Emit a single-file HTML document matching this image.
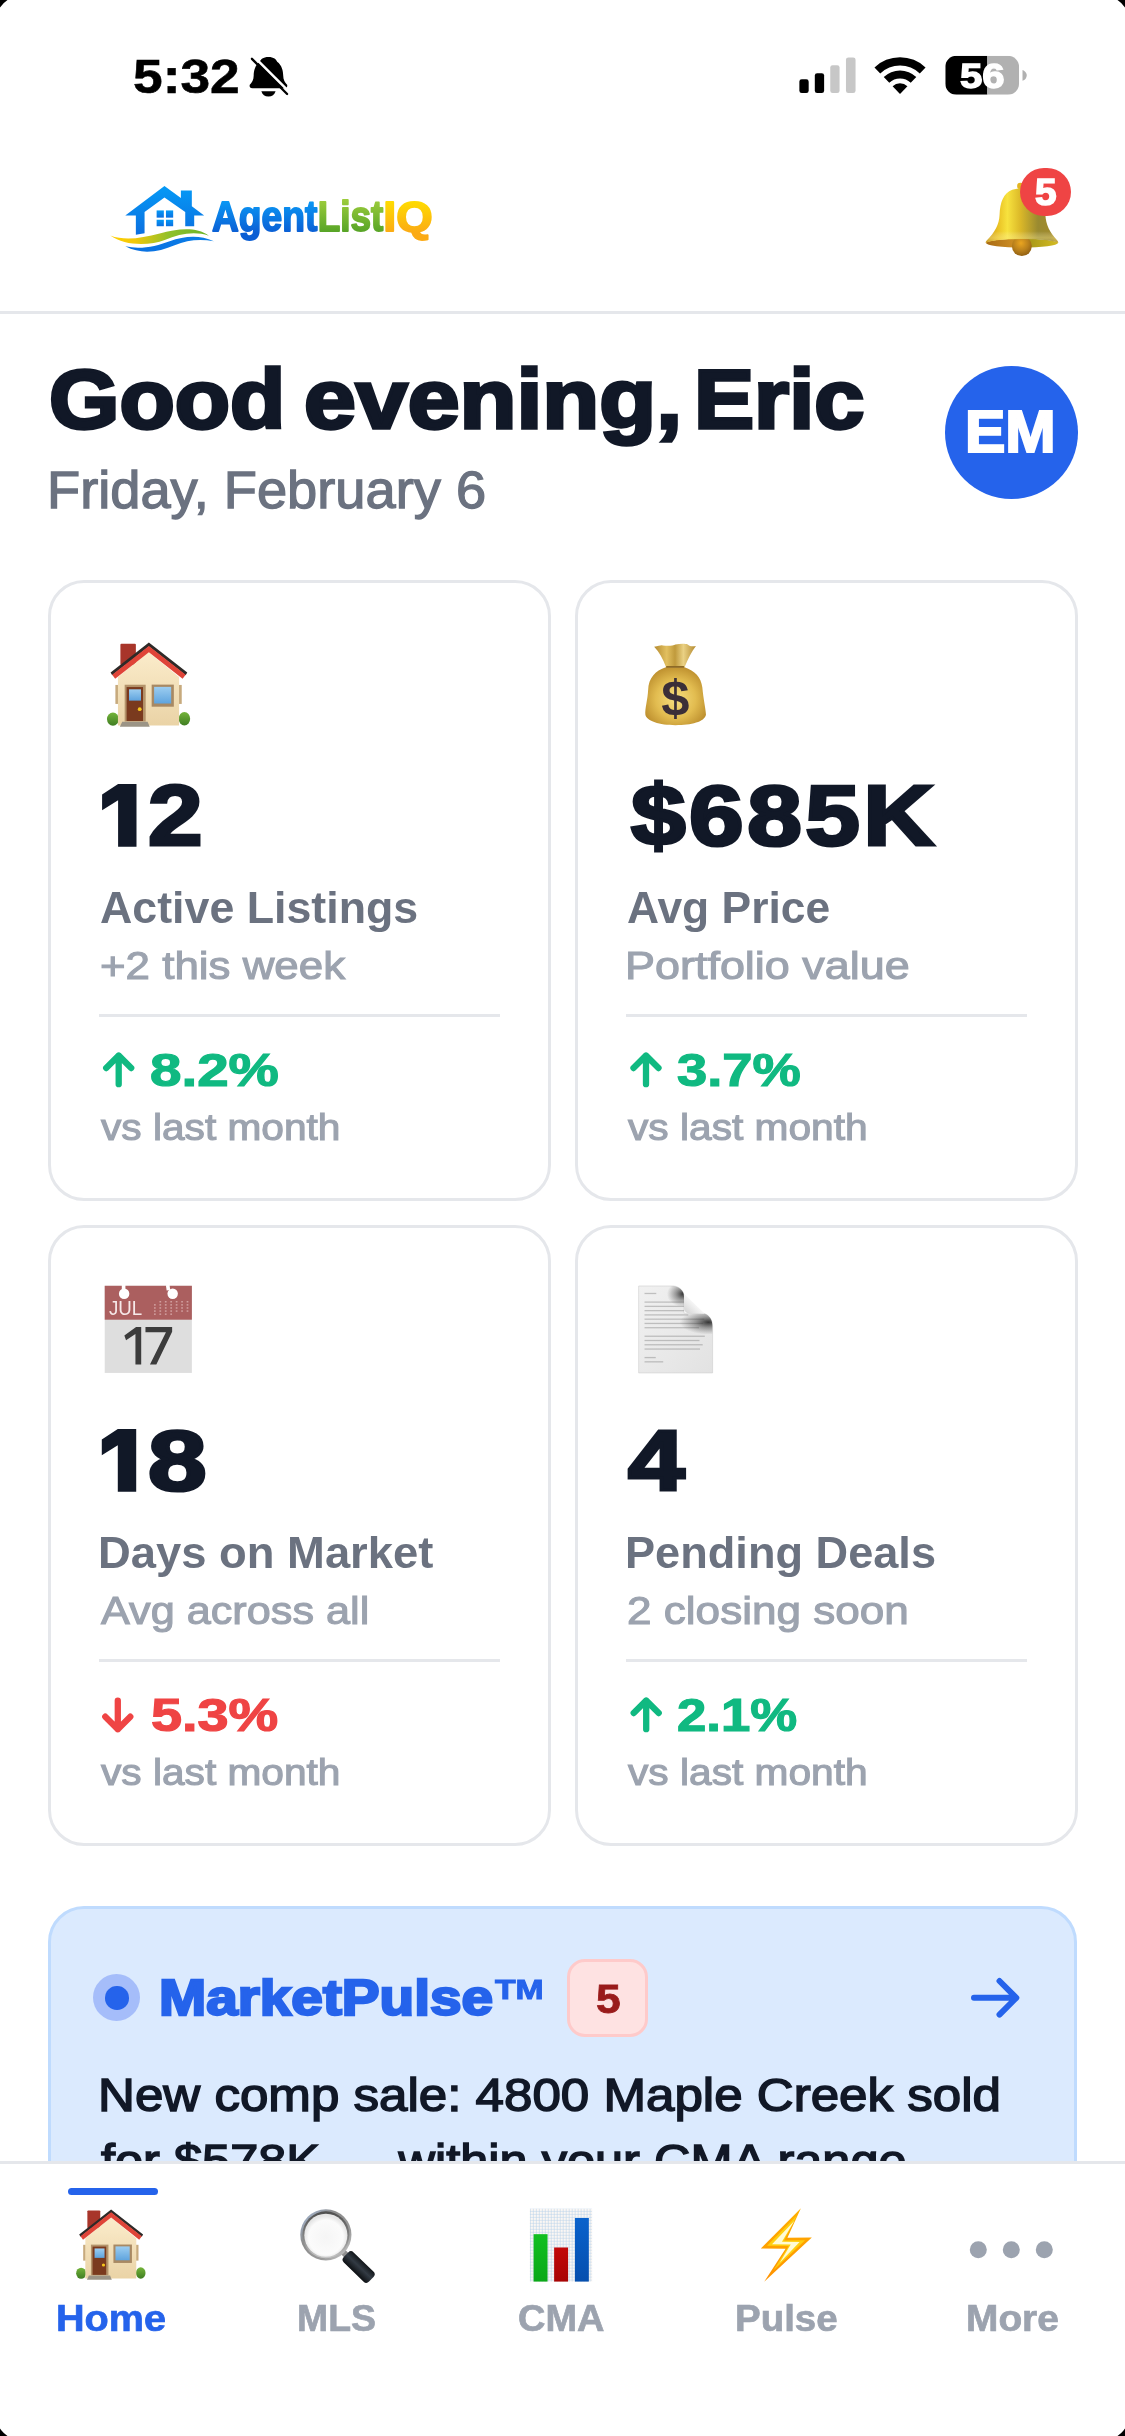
<!DOCTYPE html>
<html><head><meta charset="utf-8"><title>AgentListIQ</title>
<style>
html,body{margin:0;padding:0;}
body{width:1125px;height:2436px;position:relative;overflow:hidden;background:#fff;font-family:'Liberation Sans',sans-serif;}
.t{will-change:transform;position:absolute;white-space:nowrap;line-height:1;transform-origin:0 0;font-family:'Liberation Sans',sans-serif;}
.a{position:absolute;will-change:transform;}
.card{position:absolute;box-sizing:border-box;border:3px solid #e5e7eb;border-radius:36px;background:#fff;}
.sep{position:absolute;height:3px;background:#e5e7eb;}
svg{display:block;width:100%;height:100%;overflow:visible;}
.g1{background:linear-gradient(#0a96f4,#0b62d8);-webkit-background-clip:text;background-clip:text;color:transparent;-webkit-text-fill-color:transparent;}
</style></head><body>

<svg class="a" style="left:0;top:0;width:1125px;height:2436px" viewBox="0 0 1125 2436"><path d="M0,0H7.5Q3,3 0,7.5Z M1125,0V7.5Q1122,3 1117.5,0Z M0,2436V2428.5Q3,2433 7.5,2436Z M1125,2436H1117.5Q1122,2433 1125,2428.5Z" fill="#000"/></svg>
<div class="a" style="left:249.8px;top:40px;width:200px;height:80px;margin-left:-129.8px"><svg viewBox="0 0 1125 450">
<path d="M835,95 C865,95 880,110 884,122 C910,140 918,175 918,200 C918,225 928,240 940,252 C944,262 938,272 925,272 L745,272 C732,272 726,262 730,252 C742,240 752,225 752,200 C752,175 760,140 786,122 C790,110 805,95 835,95 Z" fill="#000"/>
<path d="M795,288 L875,288 C870,308 855,318 835,318 C815,318 800,308 795,288 Z" fill="#000"/>
<line x1="752" y1="92" x2="952" y2="292" stroke="#fff" stroke-width="14"/>
<line x1="742" y1="106" x2="940" y2="304" stroke="#000" stroke-width="13" stroke-linecap="round"/>
</svg></div>
<div class="a" style="left:760px;top:30px;width:300px;height:90px"><svg viewBox="0 0 1125 338">
<defs><clipPath id="bt"><rect x="695" y="97" width="277" height="146" rx="42"/></clipPath></defs>
<rect x="147" y="185" width="35" height="52" rx="9" fill="#000"/>
<rect x="205" y="162" width="35" height="75" rx="9" fill="#000"/>
<rect x="263" y="132" width="35" height="105" rx="9" fill="#c7c7c7"/>
<rect x="322" y="103" width="36" height="134" rx="9" fill="#c7c7c7"/>
<path d="M429.1,140.7 A138,138 0 0 1 620.9,140.7 L599.3,163.0 A107,107 0 0 0 450.7,163.0 Z" fill="#000"/><path d="M463.9,176.7 A88,88 0 0 1 586.1,176.7 L565.3,198.3 A58,58 0 0 0 484.7,198.3 Z" fill="#000"/><path d="M497.2,211.2 A40,40 0 0 1 552.8,211.2 L525,240 Z" fill="#000"/>
<g clip-path="url(#bt)"><rect x="695" y="97" width="158" height="146" fill="#000"/><rect x="853" y="97" width="120" height="146" fill="#b1b1b1"/></g>
<path d="M985,150 C998,155 1001,165 1001,170 C1001,176 998,186 985,191 Z" fill="#b1b1b1"/>
<text x="834" y="218" font-family="'Liberation Sans', sans-serif" font-weight="700" font-size="132" text-anchor="middle" fill="#fff" stroke="#fff" stroke-width="5" textLength="168" lengthAdjust="spacingAndGlyphs">56</text>
</svg></div>
<div class="a" style="left:100px;top:170px;width:140px;height:100px"><svg viewBox="0 0 1125 804">
<defs>
<linearGradient id="lg1" x1="0" y1="0" x2="0" y2="1"><stop offset="0" stop-color="#059af6"/><stop offset="1" stop-color="#0b6fe0"/></linearGradient>
<linearGradient id="lg2" x1="0" y1="0" x2="1" y2="0"><stop offset="0" stop-color="#ffd000"/><stop offset="0.25" stop-color="#f2c80a"/><stop offset="0.6" stop-color="#8fc02a"/><stop offset="1" stop-color="#6ab42a"/></linearGradient>
<linearGradient id="lg3" x1="0" y1="0" x2="1" y2="0"><stop offset="0" stop-color="#0a6fe0"/><stop offset="1" stop-color="#0a7fe8"/></linearGradient>
</defs>
<polygon points="518,128 650,226 650,165 738,165 738,292 837,366 757,366 757,452 685,452 685,337 518,222 358,337 358,508 288,520 288,366 203,366" fill="url(#lg1)"/>
<rect x="455" y="325" width="58" height="58" fill="url(#lg1)"/><rect x="530" y="325" width="58" height="58" fill="url(#lg1)"/>
<rect x="455" y="400" width="58" height="52" fill="url(#lg1)"/><rect x="530" y="400" width="58" height="52" fill="url(#lg1)"/>
<path d="M82,526 C200,570 330,548 480,510 C620,474 770,452 875,528 C760,490 640,512 520,562 C400,608 200,612 82,526 Z" fill="url(#lg2)"/>
<path d="M203,614 C330,642 450,612 560,572 C680,530 800,520 915,572 C800,552 700,562 600,606 C470,662 330,682 203,614 Z" fill="url(#lg3)"/>
</svg></div>
<div class="a" style="left:960px;top:150px;width:140px;height:120px"><svg viewBox="0 0 1125 964">
<defs>
<linearGradient id="bg1" x1="0" y1="0" x2="1" y2="0"><stop offset="0" stop-color="#c2900f"/><stop offset="0.16" stop-color="#e9bf22"/><stop offset="0.3" stop-color="#f7e23e"/><stop offset="0.48" stop-color="#dbb828"/><stop offset="0.72" stop-color="#9a8a30"/><stop offset="0.9" stop-color="#a08a2c"/><stop offset="1" stop-color="#c6a228"/></linearGradient>
<radialGradient id="bg2" cx="0.45" cy="0.35" r="0.7"><stop offset="0" stop-color="#eaa520"/><stop offset="0.55" stop-color="#b9801c"/><stop offset="1" stop-color="#8a5a10"/></radialGradient>
<linearGradient id="bg3" x1="0" y1="0" x2="1" y2="0"><stop offset="0" stop-color="#a86a14"/><stop offset="0.35" stop-color="#c98a22"/><stop offset="0.6" stop-color="#a89818"/><stop offset="1" stop-color="#d4bc22"/></linearGradient>
<linearGradient id="bg4" x1="0" y1="0" x2="0" y2="1"><stop offset="0" stop-color="#fff" stop-opacity="0"/><stop offset="0.78" stop-color="#fff" stop-opacity="0"/><stop offset="0.9" stop-color="#fff3a0" stop-opacity="0.35"/><stop offset="1" stop-color="#fff" stop-opacity="0"/></linearGradient>
</defs>
<ellipse cx="498" cy="748" rx="289" ry="35" fill="url(#bg3)"/>
<circle cx="497" cy="772" r="80" fill="url(#bg2)"/>
<ellipse cx="485" cy="290" rx="26" ry="26" fill="#e3b520"/>
<path d="M420,320 C350,345 322,420 318,520 C315,600 280,660 215,728 C206,738 205,745 209,750 A289,35 0 0 1 787,750 C792,744 790,738 780,726 C720,660 690,600 686,520 C680,420 640,335 560,315 C520,302 460,305 420,320 Z" fill="url(#bg1)"/>
<path d="M420,320 C350,345 322,420 318,520 C315,600 280,660 215,728 C206,738 205,745 209,750 A289,35 0 0 1 787,750 C792,744 790,738 780,726 C720,660 690,600 686,520 C680,420 640,335 560,315 C520,302 460,305 420,320 Z" fill="url(#bg4)"/>
</svg></div>
<div class="a" style="left:1020px;top:168px;width:51px;height:48px;border-radius:24px;background:#ef4444"></div>
<div class="a" style="left:0;top:311px;width:1125px;height:3px;background:#e5e7eb"></div>
<div class="a" style="left:945px;top:366px;width:133px;height:133px;border-radius:50%;background:#2563eb"></div>
<div class="card" style="left:48px;top:580px;width:503px;height:621px"></div>
<div class="card" style="left:575px;top:580px;width:503px;height:621px"></div>
<div class="card" style="left:48px;top:1225px;width:503px;height:621px"></div>
<div class="card" style="left:575px;top:1225px;width:503px;height:621px"></div>
<div class="sep" style="left:99px;top:1014px;width:401px"></div>
<div class="sep" style="left:626px;top:1014px;width:401px"></div>
<div class="sep" style="left:99px;top:1659px;width:401px"></div>
<div class="sep" style="left:626px;top:1659px;width:401px"></div>
<div class="a" style="left:90px;top:630px;width:120px;height:110px"><svg viewBox="0 0 1125 1031">
<defs>
<linearGradient id="hwa" x1="0" y1="0" x2="0" y2="1"><stop offset="0" stop-color="#fbeccb"/><stop offset="1" stop-color="#ead3a6"/></linearGradient>
<linearGradient id="hga" x1="0" y1="0" x2="0" y2="1"><stop offset="0" stop-color="#9ccdf0"/><stop offset="1" stop-color="#5fa4de"/></linearGradient>
<linearGradient id="hba" x1="0" y1="0" x2="0" y2="1"><stop offset="0" stop-color="#74b43a"/><stop offset="1" stop-color="#3f7d22"/></linearGradient>
</defs>
<rect x="285" y="128" width="145" height="200" rx="10" fill="#a8352a"/>
<ellipse cx="215" cy="835" rx="56" ry="62" fill="url(#hba)"/>
<ellipse cx="885" cy="832" rx="54" ry="64" fill="url(#hba)"/>
<rect x="238" y="515" width="30" height="178" fill="#c7aa7d"/>
<rect x="830" y="515" width="30" height="178" fill="#c7aa7d"/>
<polygon points="262,440 548,205 835,440 835,895 262,895" fill="url(#hwa)"/>
<polygon points="552,118 912,398 897,425 552,155 208,425 193,398" fill="#2e2a28"/>
<polygon points="552,150 897,420 868,458 552,208 236,458 208,420" fill="#df4438"/>
<rect x="325" y="513" width="197" height="345" fill="#b4936a"/>
<rect x="343" y="535" width="154" height="318" fill="#7a3a1e"/>
<rect x="366" y="556" width="112" height="106" fill="url(#hga)"/>
<circle cx="466" cy="742" r="18" fill="#f6c51c"/>
<rect x="578" y="512" width="208" height="207" fill="#a88963"/>
<rect x="601" y="533" width="160" height="156" fill="url(#hga)"/>
<polygon points="302,860 540,860 560,907 280,907" fill="#9b9486"/>
</svg></div>
<div class="a" style="left:620px;top:630px;width:120px;height:110px"><svg viewBox="0 0 1125 1031">
<defs>
<radialGradient id="mb" cx="0.5" cy="0.55" r="0.6"><stop offset="0" stop-color="#f7df80"/><stop offset="0.55" stop-color="#e2bc50"/><stop offset="1" stop-color="#b98a2a"/></radialGradient>
<linearGradient id="mn" x1="0" y1="0" x2="1" y2="0"><stop offset="0" stop-color="#b48a30"/><stop offset="0.3" stop-color="#e2c060"/><stop offset="0.5" stop-color="#c09a3c"/><stop offset="0.7" stop-color="#ead184"/><stop offset="1" stop-color="#b48a30"/></linearGradient>
</defs>
<path d="M320,158 C365,152 380,140 400,145 C450,152 500,148 520,135 C560,128 610,126 635,135 C650,152 680,156 712,150 C670,200 640,270 605,348 L432,348 C400,270 370,210 320,158 Z" fill="url(#mn)"/>
<path d="M430,348 C330,380 268,450 264,560 C260,650 232,740 238,795 C250,855 370,892 520,892 C670,892 792,862 806,795 C802,730 782,650 772,540 C762,440 700,380 605,348 Z" fill="url(#mb)"/>
<rect x="432" y="338" width="170" height="16" rx="6" fill="#8d6a26"/>
<text x="518" y="800" font-family="'Liberation Sans', sans-serif" font-weight="700" font-size="475" text-anchor="middle" fill="#3b2f38">$</text>
</svg></div>
<div class="a" style="left:90px;top:1270px;width:120px;height:120px"><svg viewBox="0 0 1125 1125">
<rect x="138" y="148" width="817" height="817" fill="#dedede"/>
<rect x="138" y="148" width="817" height="318" fill="#ab5f5f"/>
<circle cx="320" cy="222" r="49" fill="#fff"/><rect x="298" y="140" width="34" height="50" fill="#fff"/>
<circle cx="775" cy="222" r="49" fill="#fff"/><rect x="715" y="140" width="34" height="50" fill="#fff" transform="rotate(-8 730 165)"/>
<text x="178" y="420" font-family="'Liberation Sans', sans-serif" font-size="186" textLength="312" lengthAdjust="spacingAndGlyphs" fill="#f6e9e9">JUL</text>
<rect x="651" y="292" width="16" height="12" fill="#d6a9a9"/><rect x="702" y="292" width="16" height="12" fill="#d6a9a9"/><rect x="753" y="292" width="16" height="12" fill="#d6a9a9"/><rect x="804" y="292" width="16" height="12" fill="#d6a9a9"/><rect x="855" y="292" width="16" height="12" fill="#d6a9a9"/><rect x="906" y="292" width="16" height="12" fill="#d6a9a9"/><rect x="600" y="321" width="16" height="12" fill="#d6a9a9"/><rect x="651" y="321" width="16" height="12" fill="#d6a9a9"/><rect x="702" y="321" width="16" height="12" fill="#d6a9a9"/><rect x="753" y="321" width="16" height="12" fill="#d6a9a9"/><rect x="804" y="321" width="16" height="12" fill="#d6a9a9"/><rect x="855" y="321" width="16" height="12" fill="#d6a9a9"/><rect x="906" y="321" width="16" height="12" fill="#d6a9a9"/><rect x="600" y="350" width="16" height="12" fill="#d6a9a9"/><rect x="651" y="350" width="16" height="12" fill="#d6a9a9"/><rect x="702" y="350" width="16" height="12" fill="#d6a9a9"/><rect x="753" y="350" width="16" height="12" fill="#d6a9a9"/><rect x="804" y="350" width="16" height="12" fill="#d6a9a9"/><rect x="855" y="350" width="16" height="12" fill="#d6a9a9"/><rect x="906" y="350" width="16" height="12" fill="#d6a9a9"/><rect x="600" y="379" width="16" height="12" fill="#d6a9a9"/><rect x="651" y="379" width="16" height="12" fill="#d6a9a9"/><rect x="702" y="379" width="16" height="12" fill="#d6a9a9"/><rect x="753" y="379" width="16" height="12" fill="#d6a9a9"/><rect x="804" y="379" width="16" height="12" fill="#d6a9a9"/><rect x="855" y="379" width="16" height="12" fill="#d6a9a9"/><rect x="906" y="379" width="16" height="12" fill="#d6a9a9"/><rect x="600" y="408" width="16" height="12" fill="#d6a9a9"/><rect x="651" y="408" width="16" height="12" fill="#d6a9a9"/><rect x="702" y="408" width="16" height="12" fill="#d6a9a9"/><rect x="753" y="408" width="16" height="12" fill="#d6a9a9"/>
<polygon points="432,535 480,535 480,885 426,885 426,600 338,658 322,614" fill="#3c3c3c"/><polygon points="520,535 770,535 770,578 622,885 562,885 712,583 520,583" fill="#3c3c3c"/>
</svg></div>
<div class="a" style="left:620px;top:1270px;width:120px;height:120px"><svg viewBox="0 0 1125 1125">
<defs>
<linearGradient id="dp" x1="0" y1="0" x2="1" y2="1"><stop offset="0" stop-color="#f1f1f1"/><stop offset="1" stop-color="#e2e2e2"/></linearGradient>
<radialGradient id="ds1" cx="0.5" cy="0.5" r="0.5"><stop offset="0" stop-color="#222" stop-opacity="0.9"/><stop offset="0.45" stop-color="#333" stop-opacity="0.45"/><stop offset="1" stop-color="#444" stop-opacity="0"/></radialGradient>
<linearGradient id="dc" x1="0" y1="1" x2="1" y2="0"><stop offset="0" stop-color="#cfcfcf"/><stop offset="0.5" stop-color="#f6f6f6"/><stop offset="1" stop-color="#e0e0e0"/></linearGradient>
<clipPath id="dclip"><path d="M175,150 L500,150 C560,155 600,200 600,245 L600,405 L780,405 C840,420 866,470 868,525 L868,965 L175,965 Z"/></clipPath>
</defs>
<path d="M175,150 L500,150 C560,155 600,200 600,245 L600,405 L780,405 C840,420 866,470 868,525 L868,965 L175,965 Z" fill="url(#dp)" stroke="#cfcfcf" stroke-width="6"/>
<rect x="230" y="214" width="110" height="12" fill="#777" opacity="0.4"/><rect x="230" y="295" width="370" height="12" fill="#777" opacity="0.4"/><rect x="230" y="335" width="370" height="12" fill="#777" opacity="0.4"/><rect x="230" y="375" width="370" height="12" fill="#777" opacity="0.4"/><rect x="230" y="415" width="410" height="12" fill="#777" opacity="0.4"/><rect x="230" y="455" width="560" height="12" fill="#777" opacity="0.4"/><rect x="230" y="495" width="550" height="12" fill="#777" opacity="0.4"/><rect x="230" y="535" width="510" height="12" fill="#777" opacity="0.4"/><rect x="230" y="615" width="565" height="12" fill="#777" opacity="0.4"/><rect x="230" y="655" width="515" height="12" fill="#777" opacity="0.4"/><rect x="230" y="695" width="545" height="12" fill="#777" opacity="0.4"/><rect x="230" y="735" width="520" height="12" fill="#777" opacity="0.4"/><rect x="230" y="815" width="105" height="12" fill="#777" opacity="0.4"/><rect x="230" y="855" width="175" height="12" fill="#777" opacity="0.4"/>
<g clip-path="url(#dclip)">
<ellipse cx="590" cy="225" rx="150" ry="120" fill="url(#ds1)"/>
<ellipse cx="830" cy="490" rx="270" ry="115" fill="url(#ds1)"/>
</g>
<path d="M600,222 L795,410 L650,408 C615,405 600,385 600,350 Z" fill="url(#dc)"/>
</svg></div>
<div class="a" style="left:48px;top:1906px;width:1029px;height:400px;box-sizing:border-box;border:3px solid #bfdbfe;border-radius:36px;background:#dbeafe"></div>
<div class="a" style="left:93.3px;top:1974.4px;width:47px;height:47px;border-radius:50%;background:#a5bdfa"></div>
<div class="a" style="left:105px;top:1986.1px;width:23.6px;height:23.6px;border-radius:50%;background:#2563eb"></div>
<div class="a" style="left:567px;top:1958.5px;width:81px;height:77.5px;box-sizing:border-box;border:3px solid #fecaca;border-radius:18px;background:#fee2e2"></div>
<svg class="a" style="left:0;top:0;width:1125px;height:2436px" viewBox="0 0 1125 2436"><path d="M118.7,1084.2 V1055.6 M106.2,1068.1 L118.7,1055.6 L131.2,1068.1" stroke="#10b981" stroke-width="6.3" stroke-linecap="round" stroke-linejoin="round" fill="none"/><path d="M646,1084.2 V1055.6 M633.5,1068.1 L646,1055.6 L658.5,1068.1" stroke="#10b981" stroke-width="6.3" stroke-linecap="round" stroke-linejoin="round" fill="none"/><path d="M117.8,1700.6 V1729.2 M105.3,1716.7 L117.8,1729.2 L130.29999999999998,1716.7" stroke="#ef4444" stroke-width="6.3" stroke-linecap="round" stroke-linejoin="round" fill="none"/><path d="M646.2,1729.2 V1700.6 M633.7,1713.1 L646.2,1700.6 L658.7,1713.1" stroke="#10b981" stroke-width="6.3" stroke-linecap="round" stroke-linejoin="round" fill="none"/><polygon points="118.1,784.1 136.5,784.1 136.5,846.8 118.1,846.8 118.1,800.3 102.1,810.2 102.1,794.5" fill="#111827"/><polygon points="117.8,1429.1 136.2,1429.1 136.2,1491.8 117.8,1491.8 117.8,1445.3 101.8,1455.2 101.8,1439.5" fill="#111827"/><path d="M974,1997.8 H1016 M999.5,1981 L1016.3,1997.8 L999.5,2014.6" stroke="#2563eb" stroke-width="6" stroke-linecap="round" stroke-linejoin="round" fill="none"/></svg>
<span class="t" style="left:133.31px;top:52.30px;font-size:49px;font-weight:700;color:#000;transform:scaleX(1.0874);-webkit-text-stroke:0.6px #000;">5:32</span>
<span class="t" style="left:48.75px;top:356.90px;font-size:84.2px;font-weight:700;color:#111827;transform:scaleX(1.0748);-webkit-text-stroke:3.4px #111827;">Good</span>
<span class="t" style="left:303.59px;top:356.90px;font-size:84.2px;font-weight:700;color:#111827;transform:scaleX(1.1071);-webkit-text-stroke:3.4px #111827;">evening,</span>
<span class="t" style="left:693.52px;top:356.90px;font-size:84.2px;font-weight:700;color:#111827;transform:scaleX(1.0701);-webkit-text-stroke:3.4px #111827;">Eric</span>
<span class="t" style="left:46.78px;top:464.35px;font-size:52.6px;font-weight:400;color:#6b7280;transform:scaleX(1.0312);-webkit-text-stroke:1.3px #6b7280;">Friday, February 6</span>
<span class="t" style="left:964.90px;top:403.40px;font-size:58.5px;font-weight:700;color:#fff;transform:scaleX(1.0341);-webkit-text-stroke:2.2px #fff;">EM</span>
<span class="t" style="left:147.55px;top:773.20px;font-size:85px;font-weight:700;color:#111827;transform:scaleX(1.1545);-webkit-text-stroke:3.2px #111827;letter-spacing:3px;">2</span>
<span class="t" style="left:630.86px;top:773.20px;font-size:85px;font-weight:700;color:#111827;transform:scaleX(1.1551);-webkit-text-stroke:3.2px #111827;letter-spacing:3px;">$685K</span>
<span class="t" style="left:147.96px;top:1418.20px;font-size:85px;font-weight:700;color:#111827;transform:scaleX(1.2400);-webkit-text-stroke:3.2px #111827;letter-spacing:3px;">8</span>
<span class="t" style="left:627.70px;top:1418.20px;font-size:85px;font-weight:700;color:#111827;transform:scaleX(1.2000);-webkit-text-stroke:3.2px #111827;letter-spacing:3px;">4</span>
<span class="t" style="left:100.18px;top:886.20px;font-size:44px;font-weight:700;color:#6b7280;transform:scaleX(1.0168);">Active Listings</span>
<span class="t" style="left:626.99px;top:886.20px;font-size:44px;font-weight:700;color:#6b7280;transform:scaleX(1.0090);">Avg Price</span>
<span class="t" style="left:97.91px;top:1531.20px;font-size:44px;font-weight:700;color:#6b7280;transform:scaleX(1.0311);">Days on Market</span>
<span class="t" style="left:625.42px;top:1531.20px;font-size:44px;font-weight:700;color:#6b7280;transform:scaleX(1.0258);">Pending Deals</span>
<span class="t" style="left:99.89px;top:946.45px;font-size:39.6px;font-weight:400;color:#9ca3af;transform:scaleX(1.1086);-webkit-text-stroke:1.1px #9ca3af;">+2 this week</span>
<span class="t" style="left:624.59px;top:946.45px;font-size:39.6px;font-weight:400;color:#9ca3af;transform:scaleX(1.1352);-webkit-text-stroke:1.1px #9ca3af;">Portfolio value</span>
<span class="t" style="left:101.00px;top:1591.45px;font-size:39.6px;font-weight:400;color:#9ca3af;transform:scaleX(1.0922);-webkit-text-stroke:1.1px #9ca3af;">Avg across all</span>
<span class="t" style="left:626.89px;top:1591.45px;font-size:39.6px;font-weight:400;color:#9ca3af;transform:scaleX(1.1140);-webkit-text-stroke:1.1px #9ca3af;">2 closing soon</span>
<span class="t" style="left:150.17px;top:1046.80px;font-size:46px;font-weight:700;color:#10b981;transform:scaleX(1.2291);-webkit-text-stroke:1.2px #10b981;">8.2%</span>
<span class="t" style="left:677.22px;top:1046.80px;font-size:46px;font-weight:700;color:#10b981;transform:scaleX(1.1806);-webkit-text-stroke:1.2px #10b981;">3.7%</span>
<span class="t" style="left:150.79px;top:1691.80px;font-size:46px;font-weight:700;color:#ef4444;transform:scaleX(1.2136);-webkit-text-stroke:1.2px #ef4444;">5.3%</span>
<span class="t" style="left:677.05px;top:1691.80px;font-size:46px;font-weight:700;color:#10b981;transform:scaleX(1.1466);-webkit-text-stroke:1.2px #10b981;">2.1%</span>
<span class="t" style="left:101.20px;top:1110.25px;font-size:36.6px;font-weight:400;color:#9ca3af;transform:scaleX(1.1112);-webkit-text-stroke:1.1px #9ca3af;">vs last month</span>
<span class="t" style="left:628.00px;top:1110.25px;font-size:36.6px;font-weight:400;color:#9ca3af;transform:scaleX(1.1121);-webkit-text-stroke:1.1px #9ca3af;">vs last month</span>
<span class="t" style="left:101.20px;top:1755.25px;font-size:36.6px;font-weight:400;color:#9ca3af;transform:scaleX(1.1112);-webkit-text-stroke:1.1px #9ca3af;">vs last month</span>
<span class="t" style="left:628.00px;top:1755.25px;font-size:36.6px;font-weight:400;color:#9ca3af;transform:scaleX(1.1121);-webkit-text-stroke:1.1px #9ca3af;">vs last month</span>
<span class="t" style="left:159.29px;top:1972.50px;font-size:49.2px;font-weight:700;color:#2563eb;transform:scaleX(1.1526);-webkit-text-stroke:2.4px #2563eb;">MarketPulse</span>
<span class="t" style="left:494.80px;top:1976.20px;font-size:27.5px;font-weight:700;color:#2563eb;transform:scaleX(1.2263);-webkit-text-stroke:1.0px #2563eb;">TM</span>
<span class="t" style="left:596.03px;top:1977.50px;font-size:41.5px;font-weight:700;color:#991b1b;transform:scaleX(1.0714);-webkit-text-stroke:0.8px #991b1b;">5</span>
<span class="t" style="left:1034.90px;top:175.25px;font-size:36px;font-weight:700;color:#fff;transform:scaleX(1.0800);-webkit-text-stroke:1.5px #fff;">5</span>
<span class="t" style="left:97.97px;top:2071.95px;font-size:46px;font-weight:400;color:#111827;transform:scaleX(1.1105);-webkit-text-stroke:1.5px #111827;">New comp sale: 4800 Maple Creek sold</span>
<span class="t" style="left:101.30px;top:2137.95px;font-size:46px;font-weight:400;color:#111827;transform:scaleX(1.0978);-webkit-text-stroke:1.5px #111827;">for $578K — within your CMA range</span>
<div class="a" style="left:0;top:2161px;width:1125px;height:275px;background:#fff;border-top:3px solid #e5e7eb;box-sizing:border-box"></div>
<div class="a" style="left:68px;top:2187.5px;width:90px;height:6.5px;border-radius:3.5px;background:#2563eb"></div>
<div class="a" style="left:61.8px;top:2199.3px;width:100.1px;height:91.7px"><svg viewBox="0 0 1125 1031">
<defs>
<linearGradient id="hwb" x1="0" y1="0" x2="0" y2="1"><stop offset="0" stop-color="#fbeccb"/><stop offset="1" stop-color="#ead3a6"/></linearGradient>
<linearGradient id="hgb" x1="0" y1="0" x2="0" y2="1"><stop offset="0" stop-color="#9ccdf0"/><stop offset="1" stop-color="#5fa4de"/></linearGradient>
<linearGradient id="hbb" x1="0" y1="0" x2="0" y2="1"><stop offset="0" stop-color="#74b43a"/><stop offset="1" stop-color="#3f7d22"/></linearGradient>
</defs>
<rect x="285" y="128" width="145" height="200" rx="10" fill="#a8352a"/>
<ellipse cx="215" cy="835" rx="56" ry="62" fill="url(#hbb)"/>
<ellipse cx="885" cy="832" rx="54" ry="64" fill="url(#hbb)"/>
<rect x="238" y="515" width="30" height="178" fill="#c7aa7d"/>
<rect x="830" y="515" width="30" height="178" fill="#c7aa7d"/>
<polygon points="262,440 548,205 835,440 835,895 262,895" fill="url(#hwb)"/>
<polygon points="552,118 912,398 897,425 552,155 208,425 193,398" fill="#2e2a28"/>
<polygon points="552,150 897,420 868,458 552,208 236,458 208,420" fill="#df4438"/>
<rect x="325" y="513" width="197" height="345" fill="#b4936a"/>
<rect x="343" y="535" width="154" height="318" fill="#7a3a1e"/>
<rect x="366" y="556" width="112" height="106" fill="url(#hgb)"/>
<circle cx="466" cy="742" r="18" fill="#f6c51c"/>
<rect x="578" y="512" width="208" height="207" fill="#a88963"/>
<rect x="601" y="533" width="160" height="156" fill="url(#hgb)"/>
<polygon points="302,860 540,860 560,907 280,907" fill="#9b9486"/>
</svg></div>
<div class="a" style="left:280px;top:2190px;width:120px;height:110px"><svg viewBox="0 0 1125 1031">
<defs>
<linearGradient id="mg1" x1="0" y1="0" x2="1" y2="1"><stop offset="0" stop-color="#a9bfe0"/><stop offset="0.35" stop-color="#8c8c8c"/><stop offset="0.7" stop-color="#9a9a9a"/><stop offset="1" stop-color="#d6d6d6"/></linearGradient>
<linearGradient id="mg4" x1="0" y1="0" x2="0" y2="1"><stop offset="0" stop-color="#4e4e4e"/><stop offset="0.6" stop-color="#8a8a8a"/><stop offset="1" stop-color="#c8c8c8"/></linearGradient>
<radialGradient id="mg2" cx="0.5" cy="0.55" r="0.5"><stop offset="0" stop-color="#f5f5f5"/><stop offset="0.8" stop-color="#fbfbfb"/><stop offset="1" stop-color="#e6e6e6"/></radialGradient>
<linearGradient id="mg3" x1="0" y1="0" x2="0" y2="1"><stop offset="0" stop-color="#12161a"/><stop offset="0.45" stop-color="#333b44"/><stop offset="1" stop-color="#0d1013"/></linearGradient>
</defs>
<line x1="560" y1="550" x2="640" y2="630" stroke="#8f8f8f" stroke-width="56"/>
<rect x="-30" y="-66" width="330" height="132" rx="36" fill="url(#mg3)" transform="translate(640,628) rotate(44)"/>
<circle cx="430" cy="420" r="240" fill="url(#mg1)"/>
<circle cx="430" cy="420" r="220" fill="url(#mg4)"/>
<circle cx="430" cy="424" r="202" fill="url(#mg2)"/>
</svg></div>
<div class="a" style="left:500px;top:2190px;width:140px;height:110px"><svg viewBox="0 0 1125 884">
<defs>
<pattern id="bcg" width="24" height="24" patternUnits="userSpaceOnUse"><rect width="24" height="24" fill="#fbf7f4"/><path d="M0,0H24M0,0V24" stroke="#b9d3ea" stroke-width="9"/></pattern>
<linearGradient id="bc1" x1="0" y1="0" x2="0" y2="1"><stop offset="0" stop-color="#12c021"/><stop offset="1" stop-color="#0aa818"/></linearGradient>
<linearGradient id="bc2" x1="0" y1="0" x2="0" y2="1"><stop offset="0" stop-color="#c20808"/><stop offset="1" stop-color="#a80404"/></linearGradient>
<linearGradient id="bc3" x1="0" y1="0" x2="0" y2="1"><stop offset="0" stop-color="#0a62cc"/><stop offset="1" stop-color="#064fae"/></linearGradient>
</defs>
<rect x="240" y="150" width="500" height="586" fill="url(#bcg)"/>
<rect x="270" y="355" width="112" height="381" fill="url(#bc1)"/>
<rect x="435" y="462" width="112" height="274" fill="url(#bc2)"/>
<rect x="602" y="225" width="112" height="511" fill="url(#bc3)"/>
</svg></div>
<div class="a" style="left:720px;top:2190px;width:140px;height:110px"><svg viewBox="0 0 1125 884">
<defs><linearGradient id="lt1" x1="0" y1="0" x2="0" y2="1"><stop offset="0" stop-color="#ffb000"/><stop offset="1" stop-color="#ff9200"/></linearGradient></defs>
<polygon points="650,146 328,470 527,472 355,738 738,382 542,384" fill="url(#lt1)"/>
<polygon points="618,205 378,448 552,450 430,645 684,404 515,405" fill="#ffcf10"/>
<polygon points="598,248 418,436 568,438 480,585 640,418 498,416" fill="#fffbd6"/>
</svg></div>
<svg class="a" style="left:0;top:0;width:1125px;height:2436px" viewBox="0 0 1125 2436"><g fill="#9ca3af"><circle cx="978.3" cy="2249.7" r="8.5"/><circle cx="1011.3" cy="2249.7" r="8.5"/><circle cx="1044.3" cy="2249.7" r="8.5"/></g><path d="M0,2436V2428.5Q3,2433 7.5,2436Z M1125,2436H1117.5Q1122,2433 1125,2428.5Z" fill="#000"/></svg>
<span class="t" style="left:55.88px;top:2299.85px;font-size:37.4px;font-weight:700;color:#2563eb;transform:scaleX(1.0594);-webkit-text-stroke:0.7px #2563eb;">Home</span>
<span class="t" style="left:297.00px;top:2299.85px;font-size:37.4px;font-weight:700;color:#9ca3af;transform:scaleX(1.0000);-webkit-text-stroke:0.7px #9ca3af;">MLS</span>
<span class="t" style="left:518.19px;top:2299.85px;font-size:37.4px;font-weight:700;color:#9ca3af;transform:scaleX(1.0143);-webkit-text-stroke:0.7px #9ca3af;">CMA</span>
<span class="t" style="left:735.14px;top:2299.85px;font-size:37.4px;font-weight:700;color:#9ca3af;transform:scaleX(1.0289);-webkit-text-stroke:0.7px #9ca3af;">Pulse</span>
<span class="t" style="left:965.52px;top:2299.85px;font-size:37.4px;font-weight:700;color:#9ca3af;transform:scaleX(1.0395);-webkit-text-stroke:0.7px #9ca3af;">More</span>
<svg class="a" style="left:0;top:0;width:1125px;height:340px" viewBox="0 0 1125 340"><defs><linearGradient id="ltAgent" gradientUnits="userSpaceOnUse" x1="0" y1="-31" x2="0" y2="2"><stop offset="0" stop-color="#0a9af6"/><stop offset="1" stop-color="#0b5ed4"/></linearGradient><linearGradient id="ltList" gradientUnits="userSpaceOnUse" x1="0" y1="-31" x2="0" y2="2"><stop offset="0" stop-color="#9ccc3c"/><stop offset="1" stop-color="#55a326"/></linearGradient><linearGradient id="ltIQ" gradientUnits="userSpaceOnUse" x1="0" y1="-31" x2="0" y2="2"><stop offset="0" stop-color="#ffde00"/><stop offset="1" stop-color="#fbaa15"/></linearGradient></defs><text transform="translate(212.00,230.90) scale(0.8891,1)" font-family="'Liberation Sans', sans-serif" font-weight="700" font-size="41.8" fill="url(#ltAgent)" stroke="url(#ltAgent)" stroke-width="1.8" stroke-linejoin="round">Agent</text><text transform="translate(317.74,230.90) scale(0.8822,1)" font-family="'Liberation Sans', sans-serif" font-weight="700" font-size="41.8" fill="url(#ltList)" stroke="url(#ltList)" stroke-width="1.8" stroke-linejoin="round">List</text><text transform="translate(383.36,230.90) scale(1.1195,1)" font-family="'Liberation Sans', sans-serif" font-weight="700" font-size="41.8" fill="url(#ltIQ)" stroke="url(#ltIQ)" stroke-width="1.8" stroke-linejoin="round">IQ</text></svg>
</body></html>
